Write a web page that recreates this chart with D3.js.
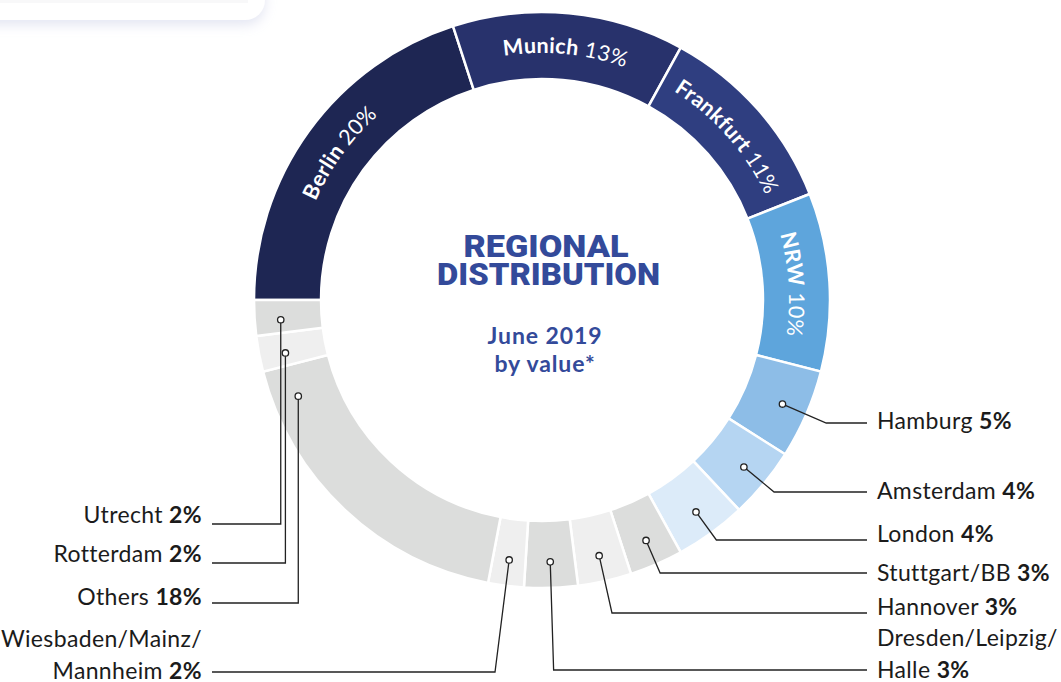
<!DOCTYPE html>
<html>
<head>
<meta charset="utf-8">
<script src="https://cdn.jsdelivr.net/npm/d3@7"></script>
<style>
  html, body { margin: 0; padding: 0; background: #fff; }
  svg { display: block; }
</style>
</head>
<body>
<svg id="chart" width="1061" height="682"></svg>
<script>
// regional share by value, June 2019 (clockwise from 9 o'clock)
const regions = ["Berlin", "Munich", "Frankfurt", "NRW", "Hamburg", "Amsterdam", "London",
  "Stuttgart/BB", "Hannover", "Dresden/Leipzig/Halle", "Wiesbaden/Mainz/Mannheim",
  "Others", "Rotterdam", "Utrecht"];
const shares = [20, 13, 11, 10, 5, 4, 4, 3, 3, 3, 2, 18, 2, 2];
const sliceColors = ["#1e2653", "#28326c", "#2f3e80", "#5ea5dc", "#8dbde7", "#b5d5f2", "#dcebf9",
  "#dcdddc", "#efefef", "#dcdddc", "#efefef", "#dcdddc", "#efefef", "#dcdddc"];
// which slices carry their label on the ring
const onRing = ["Berlin", "Munich", "Frankfurt", "NRW"];
// how the outside names break into lines
const nameLines = {
  "Dresden/Leipzig/Halle": ["Dresden/Leipzig/", "Halle"],
  "Wiesbaden/Mainz/Mannheim": ["Wiesbaden/Mainz/", "Mannheim"]
};

// layout of the outside labels: side, baseline of the last line, leader height
const labelLayout = {
  "Hamburg":      { side: "right", base: 429, lineY: 423, lead: "radial", at: 0.5 },
  "Amsterdam":    { side: "right", base: 499, lineY: 492, lead: "radial", at: 0.5 },
  "London":       { side: "right", base: 542, lineY: 540, lead: "radial", at: 0.5 },
  "Stuttgart/BB": { side: "right", base: 581, lineY: 573, lead: "radial", at: 0.5 },
  "Hannover":     { side: "right", base: 615, lineY: 613, lead: "radial", at: 0.5 },
  "Dresden/Leipzig/Halle":    { side: "right", base: 678, lineY: 670, lead: "radial", at: 0.5 },
  "Wiesbaden/Mainz/Mannheim": { side: "left", base: 679, lineY: 672, lead: "radial", at: 0.5 },
  "Others":       { side: "left", base: 605, lineY: 603, lead: "vertical", at: 0.89 },
  "Rotterdam":    { side: "left", base: 562, lineY: 563, lead: "vertical", at: 0.38 },
  "Utrecht":      { side: "left", base: 523, lineY: 524, lead: "vertical", at: 0.4 }
};

const width = 1061, height = 682;
const cx = 542, cy = 300;
const outerR = 288, innerR = 221;
const dotR = 262;
const lineHeight = 32;
const rightTextX = 877, rightLineEnd = 867;
const leftTextX = 202, leftLineEnd = 212;
const labelFont = "Lato, 'Open Sans', sans-serif";

const svg = d3.select("#chart");

// rounded card peeking in at the top left
const defs = svg.append("defs");
const shadow = defs.append("filter").attr("id", "cardShadow")
  .attr("x", "-20%").attr("y", "-50%").attr("width", "140%").attr("height", "200%");
shadow.append("feDropShadow")
  .attr("dx", 0).attr("dy", 5).attr("stdDeviation", 6)
  .attr("flood-color", "#c3c8e4").attr("flood-opacity", 0.45);

svg.append("rect")
  .attr("x", -40).attr("y", -60).attr("width", 305).attr("height", 80)
  .attr("rx", 20).attr("fill", "#fff")
  .attr("filter", "url(#cardShadow)");
svg.append("rect")
  .attr("x", -10).attr("y", -10).attr("width", 258).attr("height", 13)
  .attr("fill", "#f8f8f9");

// the ring
const pie = d3.pie()
  .sort(null)
  .value(d => d)
  .startAngle(-Math.PI / 2)
  .endAngle(Math.PI * 1.5);

const arcs = pie(shares);
const arc = d3.arc().innerRadius(innerR).outerRadius(outerR);

const g = svg.append("g").attr("transform", `translate(${cx},${cy})`);

g.selectAll("path.slice")
  .data(arcs)
  .enter()
  .append("path")
  .attr("class", "slice")
  .attr("d", arc)
  .attr("fill", (d, i) => sliceColors[i])
  .attr("stroke", "#fff")
  .attr("stroke-width", 2.5);

// polar helper, angle 0 at 12 o'clock, clockwise
function polar(r, a) {
  return [r * Math.sin(a), -r * Math.cos(a)];
}

// labels written along the ring
const textR = 247;
const ringArcs = arcs.filter((d, i) => onRing.includes(regions[i]));

g.selectAll("path.textArc")
  .data(ringArcs)
  .enter()
  .append("path")
  .attr("class", "textArc")
  .attr("id", (d, i) => "textArc" + i)
  .attr("fill", "none")
  .attr("d", d => {
    const p0 = polar(textR, d.startAngle - 0.3);
    const p1 = polar(textR, d.endAngle + 0.3);
    return `M${p0[0]},${p0[1]} A${textR},${textR} 0 0 1 ${p1[0]},${p1[1]}`;
  });

const ringText = g.selectAll("text.ringLabel")
  .data(ringArcs)
  .enter()
  .append("text")
  .attr("class", "ringLabel")
  .attr("font-family", labelFont)
  .attr("font-size", 21.5)
  .attr("letter-spacing", 0.3)
  .attr("fill", "#fff");

const tp = ringText.append("textPath")
  .attr("href", (d, i) => "#textArc" + i)
  .attr("startOffset", "50%")
  .attr("text-anchor", "middle");
tp.append("tspan").attr("font-weight", 700).text(d => regions[d.index]);
tp.append("tspan").attr("font-weight", 400).text(d => " " + shares[d.index] + "%");

// outside labels with leader lines
const outside = arcs.filter(d => labelLayout[regions[d.index]]);

outside.forEach(d => {
  const name = regions[d.index];
  const lay = labelLayout[name];
  const a = d.startAngle + (d.endAngle - d.startAngle) * lay.at;
  const [x0, y0] = polar(dotR, a);
  const yl = lay.lineY - cy;
  let xb;
  if (lay.lead === "vertical") {
    xb = x0;
  } else {
    // follow the radius down to the label height
    xb = x0 + (yl - y0) * Math.tan(Math.PI - a);
  }
  const xe = (lay.side === "right" ? rightLineEnd : leftLineEnd) - cx;

  g.append("path")
    .attr("d", d3.line()([[x0, y0], [xb, yl], [xe, yl]]))
    .attr("fill", "none")
    .attr("stroke", "#222")
    .attr("stroke-width", 1.3);

  g.append("circle")
    .attr("cx", x0).attr("cy", y0).attr("r", 3.2)
    .attr("fill", "#fff")
    .attr("stroke", "#222")
    .attr("stroke-width", 1.3);

  const lines = nameLines[name] || [name];
  const t = svg.append("text")
    .attr("font-family", labelFont)
    .attr("font-size", 23)
    .attr("letter-spacing", 0.35)
    .attr("fill", "#1b1b1b")
    .attr("text-anchor", lay.side === "right" ? "start" : "end");
  const tx = lay.side === "right" ? rightTextX : leftTextX;
  lines.forEach((ln, k) => {
    const y = lay.base - (lines.length - 1 - k) * lineHeight;
    const ts = t.append("tspan").attr("x", tx).attr("y", y).text(ln);
    if (k === lines.length - 1) {
      ts.text(ln + " ");
      t.append("tspan").attr("font-weight", 700).text(shares[d.index] + "%");
    }
  });
});

// title in the hole
const title = svg.append("g").attr("fill", "#334a9a").attr("text-anchor", "middle");
title.append("text")
  .attr("x", 546).attr("y", 257)
  .attr("font-family", "Roboto, sans-serif").attr("font-weight", 900)
  .attr("font-size", 31)
  .attr("textLength", 165).attr("lengthAdjust", "spacingAndGlyphs")
  .text("REGIONAL");
title.append("text")
  .attr("x", 548.5).attr("y", 285)
  .attr("font-family", "Roboto, sans-serif").attr("font-weight", 900)
  .attr("font-size", 31)
  .attr("textLength", 223).attr("lengthAdjust", "spacingAndGlyphs")
  .text("DISTRIBUTION");
title.append("text")
  .attr("x", 545).attr("y", 344)
  .attr("font-family", labelFont).attr("font-weight", 700)
  .attr("font-size", 23)
  .attr("letter-spacing", 0.9)
  .text("June 2019");
title.append("text")
  .attr("x", 545).attr("y", 372)
  .attr("font-family", labelFont).attr("font-weight", 700)
  .attr("font-size", 23)
  .attr("letter-spacing", 0.9)
  .text("by value*");
</script>
</body>
</html>
